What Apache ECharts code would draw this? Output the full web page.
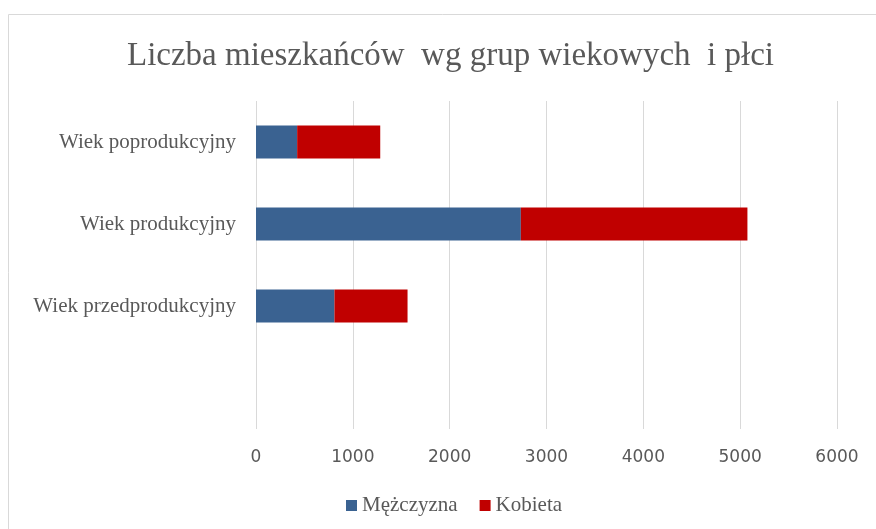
<!DOCTYPE html>
<html>
<head>
<meta charset="utf-8">
<script src="https://cdn.jsdelivr.net/npm/echarts@6/dist/echarts.min.js"></script>
<style>
  html, body { margin: 0; padding: 0; background: #fff; }
  #main { width: 876px; height: 529px; }
</style>
</head>
<body>
<div id="main"></div>
<script>
// kategorie od dołu (pierwsza pusta, jak w oryginale)
var categories = ['', 'Wiek przedprodukcyjny', 'Wiek produkcyjny', 'Wiek poprodukcyjny'];
var mezczyzna = [null, 810, 2735, 425];
var kobieta = [null, 755, 2340, 858];
var xTicks = [0, 1000, 2000, 3000, 4000, 5000, 6000];

var myChart = echarts.init(document.getElementById('main'));
myChart.setOption({
  animation: false,
  title: {
    text: 'Liczba mieszkańców  wg grup wiekowych  i płci',
    left: 122,
    top: 35,
    textStyle: {
      fontFamily: 'Liberation Serif',
      fontSize: 33,
      fontWeight: 'normal',
      color: '#595959'
    }
  },
  graphic: [{
    type: 'rect',
    shape: { x: 8.5, y: 14.5, width: 900, height: 600 },
    style: { fill: 'none', stroke: '#d9d9d9', lineWidth: 1 },
    silent: true
  }],
  legend: {
    bottom: 8,
    left: 341,
    itemWidth: 11,
    itemHeight: 11,
    itemGap: 22,
    icon: 'rect',
    textStyle: { fontFamily: 'Liberation Serif', fontSize: 21, color: '#595959' },
    data: ['Mężczyzna', 'Kobieta']
  },
  grid: { left: 256, right: 39, top: 101, bottom: 100 },
  xAxis: {
    type: 'value',
    min: xTicks[0],
    max: xTicks[xTicks.length - 1],
    interval: 1000,
    axisLine: { show: false },
    axisTick: { show: false },
    splitLine: { lineStyle: { color: '#d9d9d9' } },
    axisLabel: {
      fontFamily: 'DejaVu Sans', fontSize: 17, color: '#595959', margin: 20,
      formatter: function (v) { return String(v); }
    }
  },
  yAxis: {
    type: 'category',
    data: categories,
    axisLine: { show: false },
    axisTick: { show: false },
    axisLabel: { fontFamily: 'Liberation Serif', fontSize: 21, color: '#595959', margin: 20 }
  },
  series: [{
    name: 'Mężczyzna',
    type: 'bar',
    stack: 'total',
    barCategoryGap: '60%',
    itemStyle: { color: '#3a6291' },
    data: mezczyzna
  }, {
    name: 'Kobieta',
    type: 'bar',
    stack: 'total',
    barCategoryGap: '60%',
    itemStyle: { color: '#c00000' },
    data: kobieta
  }]
});
</script>
</body>
</html>
